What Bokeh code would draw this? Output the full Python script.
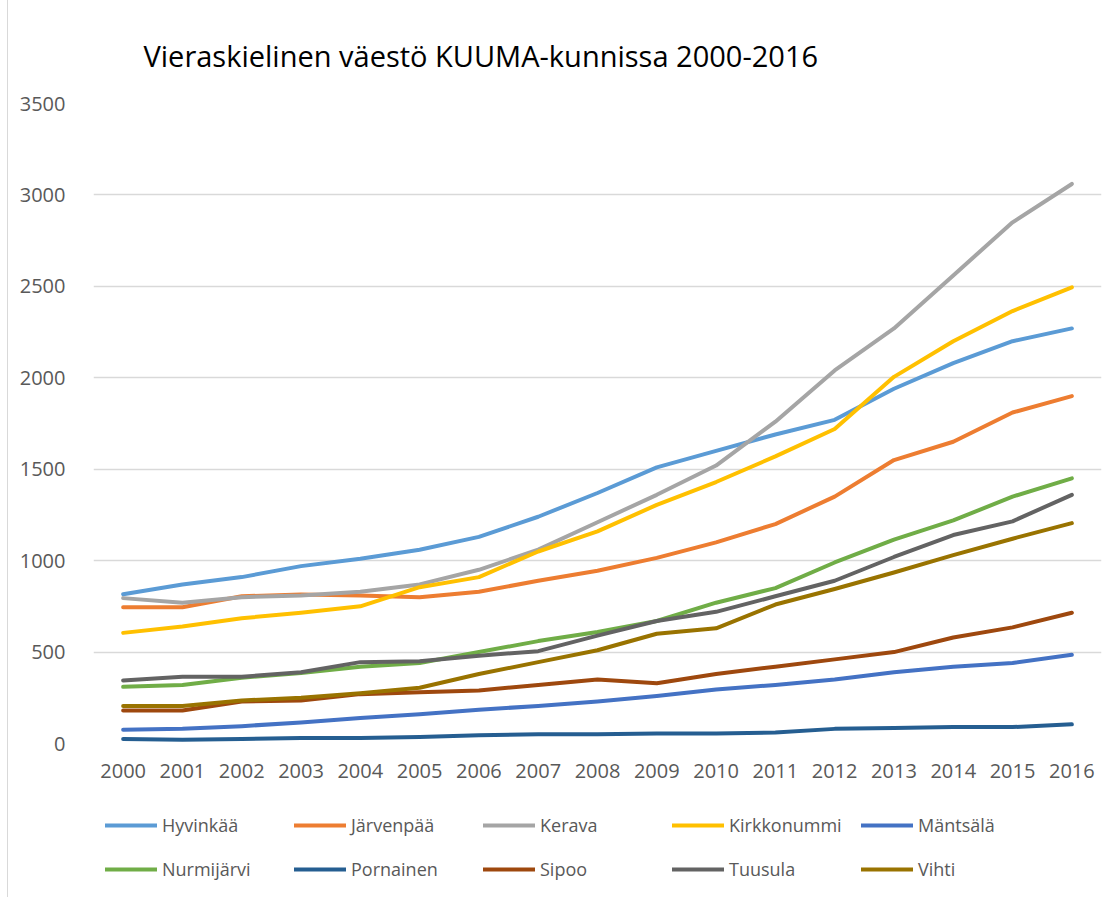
from bokeh.plotting import figure
from bokeh.layouts import column
from bokeh.models import Range1d, FixedTicker, Legend, LegendItem
from bokeh.embed import file_html
from bokeh.resources import INLINE

years = list(range(2000, 2017))
series_names = ["Hyvinkää", "Järvenpää", "Kerava", "Kirkkonummi", "Mäntsälä",
                "Nurmijärvi", "Pornainen", "Sipoo", "Tuusula", "Vihti"]
hyvinkaa = [816, 870, 910, 970, 1010, 1060, 1130, 1240, 1370, 1510, 1600, 1690, 1770, 1940, 2080, 2200, 2270]
jarvenpaa = [745, 745, 805, 815, 810, 800, 830, 890, 945, 1015, 1100, 1200, 1350, 1550, 1650, 1810, 1900]
kerava = [795, 770, 800, 810, 830, 870, 950, 1060, 1210, 1360, 1520, 1760, 2040, 2270, 2560, 2850, 3060]
kirkkonummi = [605, 640, 685, 715, 750, 855, 910, 1050, 1160, 1305, 1430, 1570, 1720, 2005, 2200, 2365, 2495]
mantsala = [75, 80, 95, 115, 140, 160, 185, 205, 230, 260, 295, 320, 350, 390, 420, 440, 485]
nurmijarvi = [310, 320, 360, 385, 420, 440, 500, 560, 610, 670, 770, 850, 990, 1115, 1220, 1350, 1450]
pornainen = [25, 20, 25, 30, 30, 35, 45, 50, 50, 55, 55, 60, 80, 85, 90, 90, 105]
sipoo = [180, 180, 230, 235, 270, 280, 290, 320, 350, 330, 380, 420, 460, 500, 580, 635, 715]
tuusula = [345, 365, 365, 390, 445, 450, 480, 505, 590, 670, 720, 805, 890, 1020, 1140, 1215, 1360]
vihti = [205, 205, 235, 250, 275, 305, 380, 445, 510, 600, 630, 760, 845, 935, 1030, 1120, 1205]
y_ticks = [0, 500, 1000, 1500, 2000, 2500, 3000, 3500]

values = [hyvinkaa, jarvenpaa, kerava, kirkkonummi, mantsala,
          nurmijarvi, pornainen, sipoo, tuusula, vihti]
colors = ["#5B9BD5", "#ED7D31", "#A5A5A5", "#FFC000", "#4472C4",
          "#70AD47", "#255E91", "#9E480E", "#636363", "#997300"]

FONT = "Open Sans"
TXT = "#595959"
BORDER = {"border-left": "1px solid #d9d9d9"}

p = figure(width=1104, height=785, output_backend="svg", toolbar_location=None,
           x_range=Range1d(1999.5, 2016.5), y_range=Range1d(0, 3500),
           min_border_left=85, min_border_right=11, min_border_top=103,
           min_border_bottom=42,
           title="Vieraskielinen väestö KUUMA-kunnissa 2000-2016")
p.margin = (0, 0, 0, 7)
p.styles = BORDER
p.outline_line_color = None
p.title.text_font = FONT
p.title.text_font_size = "29px"
p.title.text_font_style = "normal"
p.title.text_color = "#000000"
p.title.align = "left"
p.title.offset = 50
p.title.standoff = 58

p.xaxis.ticker = FixedTicker(ticks=years)
p.yaxis.ticker = FixedTicker(ticks=y_ticks)
for ax in (p.xaxis[0], p.yaxis[0]):
    ax.major_tick_line_color = None
    ax.minor_tick_line_color = None
    ax.axis_line_color = None
    ax.major_label_text_font = FONT
    ax.major_label_text_font_size = "20px"
    ax.major_label_text_color = TXT
p.xaxis.major_label_standoff = 14
p.yaxis.major_label_standoff = 22
p.xgrid.grid_line_color = None
p.ygrid.grid_line_color = "#d9d9d9"
p.ygrid.grid_line_width = 1.5

for name, vals, col in zip(series_names, values, colors):
    p.line(years, vals, line_color=col, line_width=4, line_cap="round", line_join="round")

# legend panel underneath the chart (its series lie outside its empty view)
lf = figure(width=1104, height=112, output_backend="svg", toolbar_location=None,
            x_range=Range1d(0, 1), y_range=Range1d(0, 1),
            x_axis_location=None, y_axis_location=None,
            min_border=0, min_border_left=0, min_border_right=0,
            min_border_top=0, min_border_bottom=0)
lf.margin = (0, 0, 0, 7)
lf.styles = BORDER
lf.grid.visible = False
lf.outline_line_color = None

items = []
for name, vals, col in zip(series_names, values, colors):
    r = lf.line(years, vals, line_color=col, line_width=4, line_cap="round")
    items.append(LegendItem(label=name, renderers=[r]))

legend = Legend(items=items, orientation="horizontal", ncols=5,
                label_text_font=FONT, label_text_font_size="18px", label_text_color=TXT,
                glyph_width=52, glyph_height=38, label_height=38, label_standoff=5,
                label_width=126, spacing=6, padding=0, margin=0,
                border_line_color=None, background_fill_alpha=0,
                location=(12, 9))
lf.add_layout(legend)

layout = column(p, lf, spacing=0)
open("out.html", "w").write(file_html(layout, INLINE))
